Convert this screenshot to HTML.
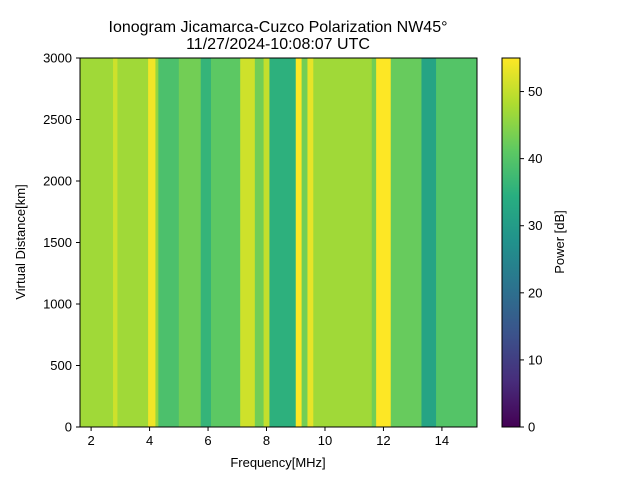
<!DOCTYPE html>
<html><head><meta charset="utf-8"><style>
body{margin:0;background:#fff;}
text{font-family:"Liberation Sans",sans-serif;fill:#000;}
</style></head><body>
<svg id="chart" width="640" height="480" xmlns="http://www.w3.org/2000/svg">
<defs>
<linearGradient id="vir" x1="0" y1="1" x2="0" y2="0">
<stop offset="0" stop-color="#440154"/><stop offset="0.125" stop-color="#472d7b"/><stop offset="0.25" stop-color="#3b528b"/><stop offset="0.375" stop-color="#2c728e"/><stop offset="0.5" stop-color="#21918c"/><stop offset="0.625" stop-color="#28ae80"/><stop offset="0.75" stop-color="#5ec962"/><stop offset="0.875" stop-color="#addc30"/><stop offset="1" stop-color="#fde725"/>
</linearGradient>
</defs>
<text x="278" y="32" font-size="16" text-anchor="middle">Ionogram Jicamarca-Cuzco Polarization NW45°</text>
<text x="278" y="49" font-size="16" text-anchor="middle">11/27/2024-10:08:07 UTC</text>
<g id="heat"></g>
<rect x="80" y="58" width="397" height="369" fill="none" stroke="#000" stroke-width="1"/>
<g id="xt"></g>
<g id="yt"></g>
<text x="278" y="467" font-size="13" text-anchor="middle">Frequency[MHz]</text>
<text transform="translate(25,242) rotate(-90)" font-size="13" text-anchor="middle">Virtual Distance[km]</text>
<rect x="502" y="58" width="18" height="369" fill="url(#vir)" stroke="#000" stroke-width="1"/>
<g id="ct"></g>
<text transform="translate(564,242) rotate(-90)" font-size="13" text-anchor="middle">Power [dB]</text>
</svg>
<script>
const freqEdges=[1.62,2.75,2.9,3.95,4.2,4.3,5.0,5.75,6.1,7.1,7.6,7.9,8.1,9.0,9.2,9.4,9.6,11.6,11.75,12.25,13.3,13.8,15.2];
const powerVals=[47,51,47,54,46,39,43,36,41,51,43,50,35,55,43,53,47,43,55,42,32,40];
const xTicks=[2,4,6,8,10,12,14];
const yTicks=[0,500,1000,1500,2000,2500,3000];
const cTicks=[0,10,20,30,40,50];
const NS="http://www.w3.org/2000/svg";
const X=f=>80+(f-1.62)/(15.2-1.62)*397;
const Y=d=>427-d/3000*369;
const C=v=>427-v/55*369;
const stops=["#440154","#472d7b","#3b528b","#2c728e","#21918c","#28ae80","#5ec962","#addc30","#fde725"];
function hx(h){return [1,3,5].map(i=>parseInt(h.substr(i,2),16));}
function cmap(v){let t=Math.max(0,Math.min(1,v/55))*8;let i=Math.min(7,Math.floor(t)),u=t-i;let a=hx(stops[i]),b=hx(stops[i+1]);return "rgb("+a.map((c,k)=>Math.round(c+(b[k]-c)*u)).join(",")+")";}
function el(t,a,p){const e=document.createElementNS(NS,t);for(const k in a)e.setAttribute(k,a[k]);p.appendChild(e);return e;}
const heat=document.getElementById("heat");
for(let i=0;i<powerVals.length;i++){
 const x0=X(freqEdges[i]),x1=X(freqEdges[i+1]);
 const r=el("rect",{x:x0,y:58,width:x1-x0+0.5,height:369,fill:cmap(powerVals[i])},heat);
 
 
}
const xt=document.getElementById("xt");
xTicks.forEach(v=>{const x=X(v);el("line",{x1:x,x2:x,y1:427,y2:431,stroke:"#000"},xt);const t=el("text",{x:x,y:445,"font-size":13,"text-anchor":"middle"},xt);t.textContent=v;
 
 });
const yt=document.getElementById("yt");
yTicks.forEach(v=>{const y=Y(v);el("line",{x1:76,x2:80,y1:y,y2:y,stroke:"#000"},yt);const t=el("text",{x:72,y:y+4.5,"font-size":13,"text-anchor":"end"},yt);t.textContent=v;
 
 });
const ct=document.getElementById("ct");
cTicks.forEach(v=>{const y=C(v);el("line",{x1:520,x2:524,y1:y,y2:y,stroke:"#000"},ct);const t=el("text",{x:528,y:y+4.5,"font-size":13},ct);t.textContent=v;
 
 });
</script>
</body></html>
